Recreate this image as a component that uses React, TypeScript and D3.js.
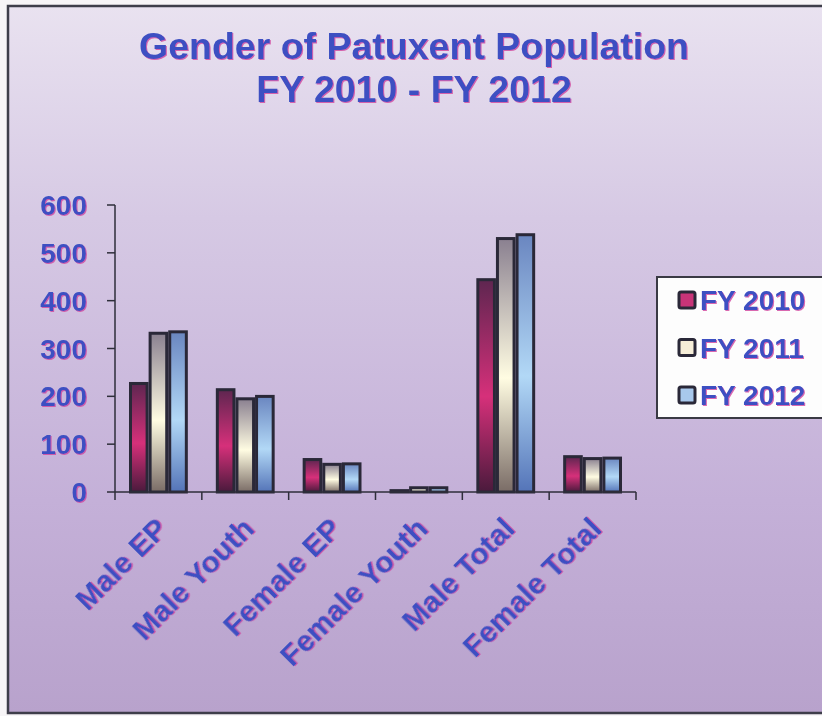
import React from "react";
import * as d3 from "d3";

const categories = ["Male EP", "Male Youth", "Female EP", "Female Youth", "Male Total", "Female Total"];
const seriesNames = ["FY 2010", "FY 2011", "FY 2012"];
const fy2010 = [230, 217, 71, 6, 447, 77];
const fy2011 = [335, 198, 61, 12, 533, 73];
const fy2012 = [338, 203, 62, 12, 541, 74];
const yTicks = [0, 100, 200, 300, 400, 500, 600];

const W = 822;
const H = 716;
const plot = { left: 115, right: 636, top: 205, bottom: 492 };

const BLUE = "#3c4fc2";
const FONT = "'Liberation Sans', Arial, sans-serif";

// bar gradients: [top, middle, bottom]
const barStops = [
  ["#5e2650", "#d6307a", "#4a1a3c"],
  ["#8a8090", "#fffce2", "#7a6c66"],
  ["#6a86c0", "#b2d8f6", "#5474b8"],
];
const swatchFill = ["#c83478", "#f6eed8", "#a8c8ec"];

function Txt(props: any) {
  const { children, ...rest } = props;
  return (
    <text {...rest} fill={BLUE} filter="url(#fringe)">
      {children}
    </text>
  );
}

export default function App() {
  const series = [fy2010, fy2011, fy2012];
  const x = d3.scaleBand<string>().domain(categories).range([plot.left, plot.right]).paddingInner(0).paddingOuter(0);
  const inner = d3.scaleBand<number>().domain([0, 1, 2]).range([14, x.bandwidth() - 14]);
  const y = d3.scaleLinear().domain([0, 600]).range([plot.bottom, plot.top]);

  const bounds = [...categories.map((c) => x(c)!), plot.right];

  return (
    <svg width={W} height={H} style={{ position: "absolute", left: 0, top: 0 }} fontFamily={FONT}>
      <defs>
        <linearGradient id="bg" x1="0" y1="0" x2="0" y2="1">
          <stop offset="0" stopColor="#e9e2f0" />
          <stop offset="0.3" stopColor="#d6c9e4" />
          <stop offset="0.7" stopColor="#c4b0d8" />
          <stop offset="1" stopColor="#b8a2cc" />
        </linearGradient>
        {barStops.map((s, i) => (
          <linearGradient key={i} id={`bar${i}`} x1="0" y1="0" x2="0" y2="1">
            <stop offset="0" stopColor={s[0]} />
            <stop offset="0.55" stopColor={s[1]} />
            <stop offset="1" stopColor={s[2]} />
          </linearGradient>
        ))}
        <filter id="fringe" x="-5%" y="-5%" width="110%" height="110%">
          <feOffset in="SourceAlpha" dx="1" dy="1" result="off" />
          <feFlood floodColor="#d0449c" floodOpacity="0.8" />
          <feComposite in2="off" operator="in" result="shadow" />
          <feMerge>
            <feMergeNode in="shadow" />
            <feMergeNode in="SourceGraphic" />
          </feMerge>
        </filter>
      </defs>

      <rect x={0} y={0} width={W} height={H} fill="#f7f5f7" />
      <rect x={8} y={6} width={W + 20} height={707} fill="url(#bg)" stroke="#3e3e4a" strokeWidth={2.5} />

      {/* title */}
      <Txt x={414} y={59} textAnchor="middle" fontSize={37.5} fontWeight="bold">
        Gender of Patuxent Population
      </Txt>
      <Txt x={414} y={102} textAnchor="middle" fontSize={37.5} fontWeight="bold">
        FY 2010 - FY 2012
      </Txt>

      {/* bars */}
      {categories.map((c, ci) =>
        series.map((s, si) => {
          const bx = x(c)! + inner(si)!;
          const top = y(s[ci]);
          return (
            <rect
              key={`${ci}-${si}`}
              x={bx + 1.5}
              y={top + 1.5}
              width={inner.bandwidth() - 3}
              height={Math.max(plot.bottom - top - 1.5, 1)}
              fill={`url(#bar${si})`}
              stroke="#2a2838"
              strokeWidth={3}
            />
          );
        })
      )}

      {/* axes */}
      <line x1={plot.left} x2={plot.left} y1={plot.top} y2={plot.bottom} stroke="#2e2e3a" strokeWidth={1.5} />
      <line x1={plot.left} x2={plot.right} y1={plot.bottom} y2={plot.bottom} stroke="#2e2e3a" strokeWidth={1.5} />
      {yTicks.map((t) => (
        <g key={t}>
          <line x1={plot.left - 8} x2={plot.left} y1={y(t)} y2={y(t)} stroke="#2e2e3a" strokeWidth={1.5} />
          <Txt x={87} y={y(t) + 10} textAnchor="end" fontSize={28} fontWeight="bold">
            {t}
          </Txt>
        </g>
      ))}
      {bounds.map((b, i) => (
        <line key={i} x1={b} x2={b} y1={plot.bottom} y2={plot.bottom + 8} stroke="#2e2e3a" strokeWidth={1.5} />
      ))}
      {categories.map((c) => {
        const cx = x(c)! + x.bandwidth() / 2;
        return (
          <Txt key={c} transform={`translate(${cx - 5},${515}) rotate(-45)`} dy="0.72em" textAnchor="end" fontSize={30} fontWeight="bold">
            {c}
          </Txt>
        );
      })}

      {/* legend */}
      <rect x={657} y={277} width={200} height={141} fill="#fdfdfd" stroke="#3a3a44" strokeWidth={2} />
      {seriesNames.map((n, i) => {
        const cy = 300 + i * 47.5;
        return (
          <g key={n}>
            <rect x={679} y={cy - 8} width={16} height={16} rx={2} fill={swatchFill[i]} stroke="#2a2838" strokeWidth={3} />
            <Txt x={700} y={cy + 10} fontSize={28} fontWeight="bold">
              {n}
            </Txt>
          </g>
        );
      })}
    </svg>
  );
}
